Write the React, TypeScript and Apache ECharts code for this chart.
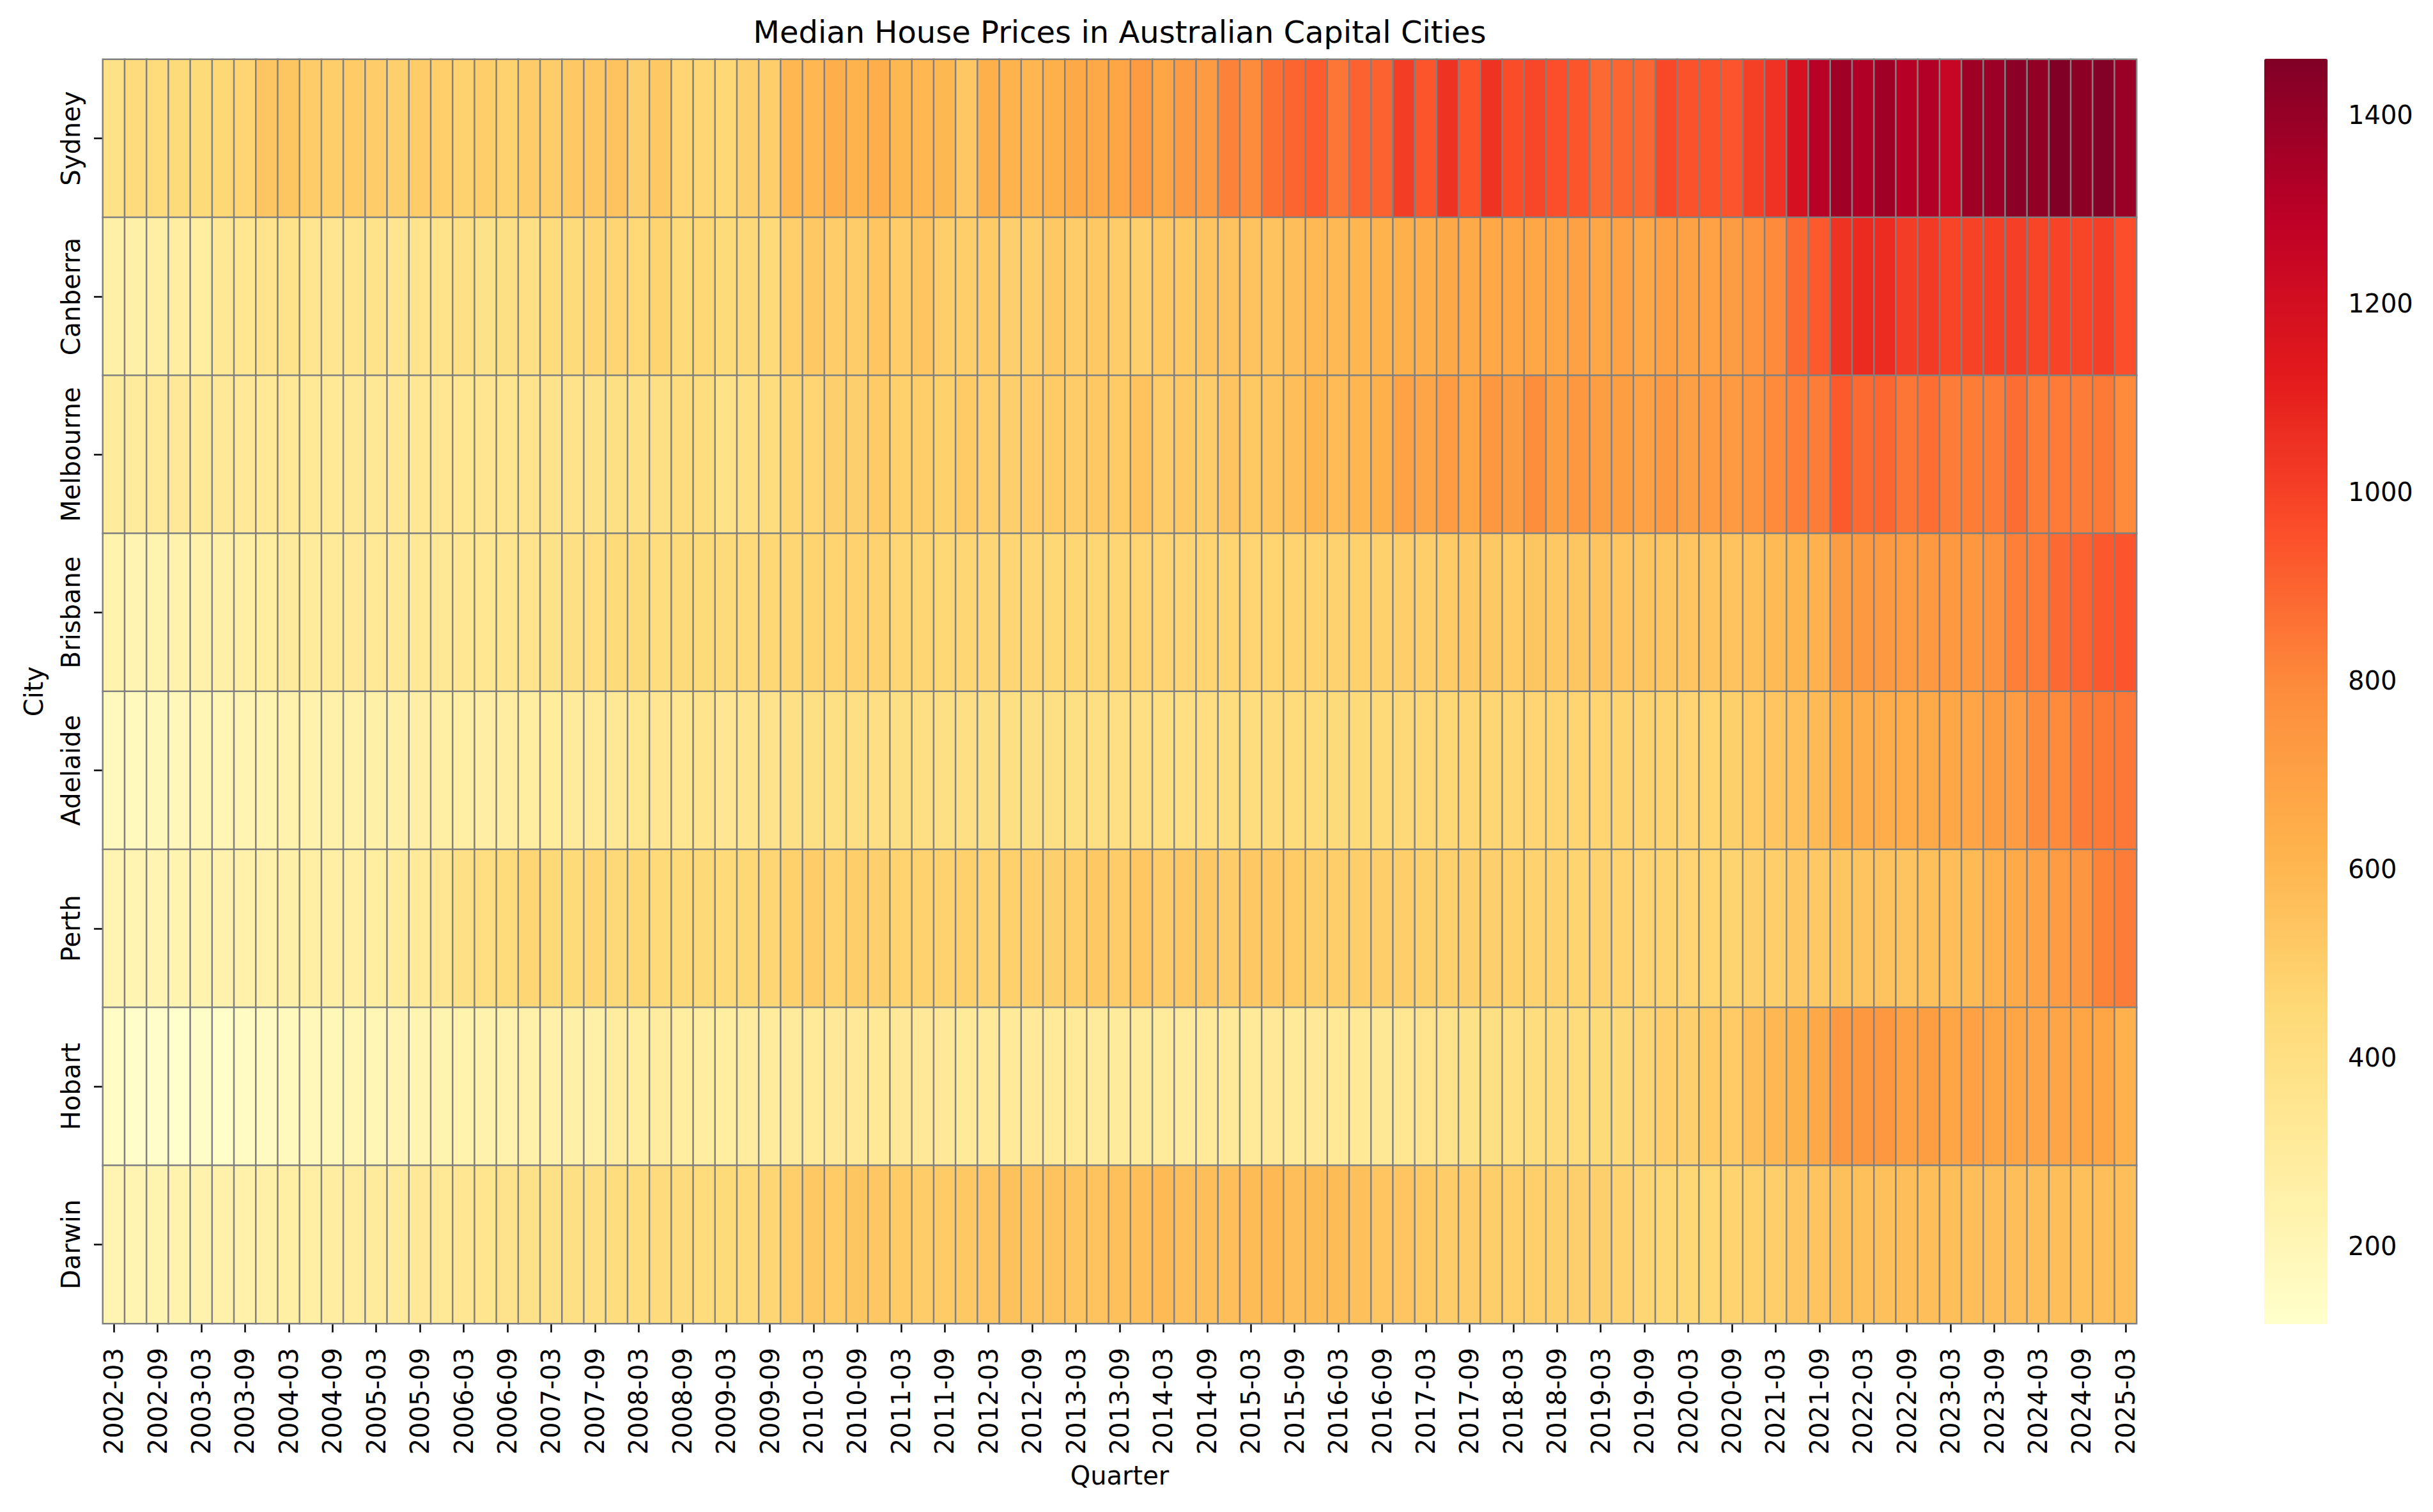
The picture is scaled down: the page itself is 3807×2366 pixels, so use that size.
import { useEffect, useMemo, useRef } from "react";
import * as echarts from "echarts";

// quarters 2002-03 .. 2025-03
const QUARTERS: string[] = [];
for (let y = 2002; y <= 2025; y++) {
  for (const m of ["03", "06", "09", "12"]) {
    if (y === 2025 && m !== "03") break;
    QUARTERS.push(`${y}-${m}`);
  }
}

const CITIES = ["Sydney", "Canberra", "Melbourne", "Brisbane", "Adelaide", "Perth", "Hobart", "Darwin"];

// median house price, $k, one value per quarter
const SYDNEY = [
  380, 425, 430, 435, 440, 455, 470, 533, 535, 505, 500, 515, 505, 490, 505, 495, 480, 500, 485, 510, 505, 520, 530,
  550, 490, 520, 470, 460, 455, 490, 500, 600, 600, 635, 615, 635, 595, 600, 595, 530, 630, 615, 605, 630, 660, 660,
  680, 725, 680, 725, 725, 817, 790, 865, 897, 919, 850, 903, 903, 1011, 937, 1043, 943, 1043, 962, 982, 956, 937, 884,
  892, 892, 975, 945, 945, 940, 1000, 1046, 1186, 1303, 1369, 1328, 1372, 1308, 1320, 1252, 1375, 1383, 1430, 1410, 1460, 1425, 1452, 1389,
];
const CANBERRA = [
  258, 260, 270, 280, 285, 327, 343, 360, 370, 352, 352, 360, 370, 352, 360, 370, 385, 378, 395, 400, 428, 436, 460,
  470, 453, 475, 445, 455, 440, 450, 443, 495, 520, 510, 510, 540, 510, 540, 500, 500, 515, 490, 500, 520, 505, 520,
  505, 490, 528, 528, 545, 550, 550, 550, 570, 590, 590, 605, 615, 630, 640, 660, 655, 665, 672, 672, 672, 700, 672,
  695, 665, 700, 690, 695, 715, 750, 795, 881, 924, 1043, 1072, 1066, 1010, 1020, 985, 995, 1000, 1004, 985, 992, 987, 1004, 956,
];
const MELBOURNE = [
  300, 305, 310, 315, 320, 318, 318, 322, 325, 325, 325, 328, 330, 335, 338, 340, 345, 350, 355, 360, 365, 370, 375,
  395, 385, 395, 415, 415, 380, 405, 418, 460, 470, 490, 490, 515, 488, 498, 488, 515, 495, 490, 505, 515, 505, 520,
  515, 550, 505, 520, 510, 545, 528, 545, 565, 605, 580, 605, 630, 695, 675, 720, 680, 740, 718, 785, 712, 738, 710,
  712, 695, 735, 705, 720, 730, 750, 795, 825, 835, 924, 881, 890, 850, 870, 830, 832, 835, 873, 832, 838, 830, 840, 795,
];
const BRISBANE = [
  230, 215, 225, 235, 245, 255, 270, 285, 300, 305, 310, 315, 320, 322, 325, 330, 335, 345, 355, 360, 375, 395, 410,
  435, 435, 420, 435, 440, 435, 445, 455, 465, 475, 475, 485, 480, 465, 460, 458, 460, 460, 465, 460, 458, 465, 465,
  460, 468, 468, 468, 472, 472, 468, 472, 477, 477, 482, 487, 487, 500, 500, 515, 520, 520, 515, 535, 520, 535, 545,
  538, 535, 535, 540, 545, 548, 560, 585, 605, 625, 715, 732, 732, 720, 732, 732, 740, 760, 825, 838, 885, 900, 930, 940,
];
const ADELAIDE = [
  170, 175, 180, 190, 200, 205, 215, 225, 235, 240, 245, 250, 255, 258, 262, 265, 270, 275, 280, 285, 295, 300, 310,
  330, 345, 340, 345, 358, 340, 358, 365, 385, 395, 395, 400, 400, 395, 400, 395, 400, 395, 395, 395, 395, 398, 400,
  400, 400, 405, 405, 410, 415, 420, 425, 430, 430, 435, 440, 445, 450, 455, 458, 460, 460, 465, 468, 468, 472, 472,
  475, 475, 475, 468, 472, 492, 515, 538, 555, 585, 630, 640, 645, 645, 655, 672, 675, 712, 720, 788, 795, 830, 840, 845,
];
const PERTH = [
  215, 215, 220, 225, 230, 235, 245, 250, 260, 265, 270, 275, 285, 295, 310, 340, 390, 410, 430, 460, 450, 440, 460,
  450, 455, 445, 443, 450, 443, 455, 460, 488, 505, 485, 498, 490, 478, 482, 482, 487, 478, 487, 495, 490, 502, 520,
  508, 530, 508, 520, 520, 508, 525, 525, 515, 502, 502, 498, 502, 498, 493, 488, 490, 490, 488, 480, 480, 475, 482,
  478, 470, 475, 468, 472, 475, 490, 498, 520, 525, 535, 542, 548, 545, 560, 568, 588, 625, 655, 685, 720, 748, 815, 835,
];
const HOBART = [
  145, 125, 125, 120, 135, 130, 150, 160, 175, 185, 195, 200, 210, 215, 220, 225, 230, 235, 240, 245, 250, 255, 260,
  290, 285, 290, 285, 280, 285, 290, 295, 305, 310, 315, 315, 320, 318, 315, 315, 312, 310, 308, 306, 308, 310, 305,
  300, 305, 303, 305, 308, 310, 312, 315, 312, 318, 320, 325, 330, 345, 360, 370, 380, 395, 405, 415, 425, 430, 440,
  450, 460, 495, 490, 515, 515, 570, 598, 620, 665, 735, 745, 738, 700, 712, 680, 695, 680, 680, 677, 677, 680, 680, 625,
];
const DARWIN = [
  215, 220, 225, 230, 240, 245, 250, 255, 265, 270, 280, 290, 300, 305, 315, 325, 340, 355, 365, 375, 385, 395, 400,
  415, 418, 425, 425, 432, 440, 445, 462, 495, 520, 515, 535, 530, 515, 510, 515, 520, 538, 552, 545, 548, 545, 548,
  560, 570, 588, 568, 568, 568, 578, 590, 568, 578, 578, 560, 540, 540, 528, 510, 505, 498, 495, 495, 490, 490, 490,
  480, 465, 455, 455, 458, 478, 488, 500, 530, 545, 560, 560, 560, 568, 568, 568, 563, 568, 563, 563, 568, 560, 568, 568,
];

const PRICES = [SYDNEY, CANBERRA, MELBOURNE, BRISBANE, ADELAIDE, PERTH, HOBART, DARWIN];

const COLORBAR_TICKS = [200, 400, 600, 800, 1000, 1200, 1400];
const V_MIN = 117;
const V_MAX = 1460;
const YL_OR_RD = ["#ffffcc", "#ffeda0", "#fed976", "#feb24c", "#fd8d3c", "#fc4e2a", "#e31a1c", "#bd0026", "#800026"];

const FONT = "DejaVu Sans";

export default function App() {
  const chartRef = useRef<HTMLDivElement | null>(null);

  const options = useMemo(() => {
    const cells: number[][] = [];
    PRICES.forEach((row, yi) => {
      row.forEach((v, xi) => cells.push([xi, yi, v]));
    });

    return {
      animation: false,
      backgroundColor: "#ffffff",
      textStyle: { fontFamily: FONT, color: "#000" },
      graphic: [
        {
          type: "text",
          x: 1752,
          y: 50,
          style: {
            text: "Median House Prices in Australian Capital Cities",
            fontSize: 48,
            fontFamily: FONT,
            fill: "#000",
            textAlign: "center",
            textVerticalAlign: "middle",
          },
        },
      ],
      grid: [
        { left: 161, top: 93, width: 3182, height: 1978 },
        { left: 3543, top: 92, width: 99, height: 1980 },
      ],
      xAxis: [
        {
          type: "category",
          gridIndex: 0,
          data: QUARTERS,
          name: "Quarter",
          nameLocation: "middle",
          nameGap: 218,
          nameTextStyle: { fontSize: 40, color: "#000", fontFamily: FONT },
          axisLine: { show: false },
          axisTick: { show: true, interval: 1, alignWithLabel: true, length: 14, lineStyle: { color: "#000", width: 2.5 } },
          axisLabel: { interval: 1, rotate: 90, fontSize: 40, margin: 38, color: "#000", fontFamily: FONT },
          splitLine: { show: false },
          splitArea: { show: false },
        },
        { type: "value", gridIndex: 1, show: false, min: 0, max: 1 },
      ],
      yAxis: [
        {
          type: "category",
          gridIndex: 0,
          data: CITIES,
          inverse: true,
          name: "City",
          nameLocation: "middle",
          nameRotate: 90,
          nameGap: 88,
          nameTextStyle: { fontSize: 40, color: "#000", fontFamily: FONT },
          axisLine: { show: false },
          axisTick: { show: true, interval: 0, alignWithLabel: true, length: 14, lineStyle: { color: "#000", width: 2.5 } },
          axisLabel: { interval: 0, rotate: 90, fontSize: 40, margin: 30, color: "#000", fontFamily: FONT },
          splitLine: { show: false },
          splitArea: { show: false },
        },
        {
          type: "value",
          gridIndex: 1,
          min: V_MIN,
          max: V_MAX,
          position: "right",
          axisLine: { show: false },
          splitLine: { show: false },
          axisTick: {
            show: true,
            length: 15,
            customValues: COLORBAR_TICKS,
            lineStyle: { color: "#000", width: 2.5 },
          },
          axisLabel: {
            customValues: COLORBAR_TICKS,
            formatter: (v: number) => String(v),
            fontSize: 40,
            margin: 32,
            color: "#000",
            fontFamily: FONT,
          },
        },
      ],
      visualMap: {
        type: "continuous",
        seriesIndex: 0,
        min: V_MIN,
        max: V_MAX,
        calculable: false,
        left: 3543,
        top: 92,
        padding: 0,
        itemWidth: 99,
        itemHeight: 1980,
        inRange: { color: YL_OR_RD },
      },
      series: [
        {
          type: "heatmap",
          xAxisIndex: 0,
          yAxisIndex: 0,
          data: cells,
          itemStyle: { borderColor: "#808080", borderWidth: 2.5 },
          emphasis: { disabled: true },
        },
      ],
    };
  }, []);

  useEffect(() => {
    if (!chartRef.current) return;
    const chart = echarts.init(chartRef.current, undefined, { renderer: "svg" });
    chart.setOption(options);
    return () => {
      chart.dispose();
    };
  }, [options]);

  return (
    <div
      ref={chartRef}
      style={{ position: "fixed", left: 0, top: 0, width: 3807, height: 2366, background: "#fff" }}
    />
  );
}
